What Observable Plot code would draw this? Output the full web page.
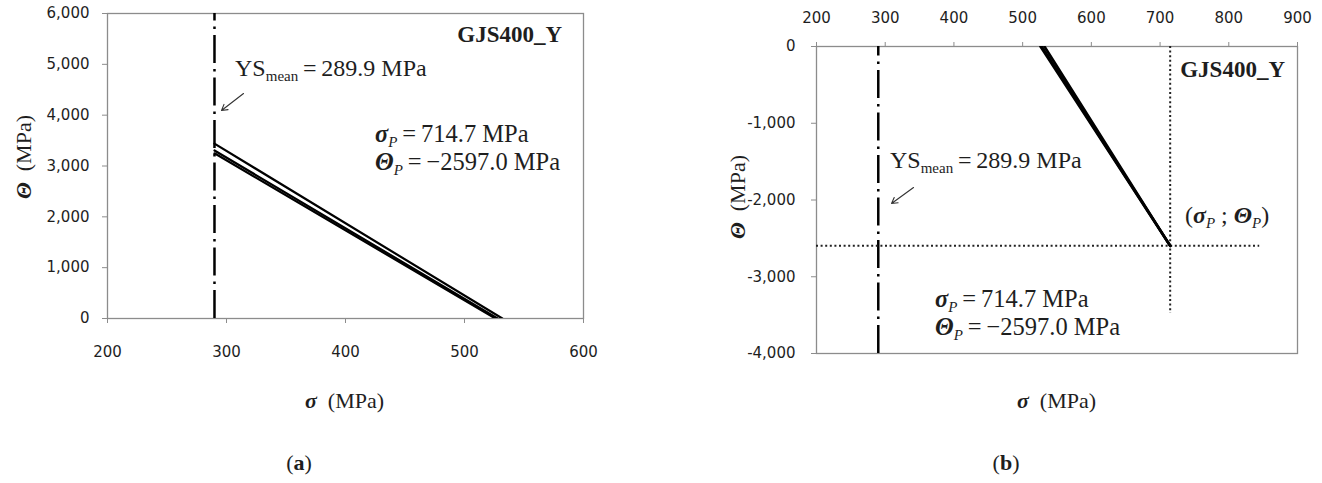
<!DOCTYPE html>
<html>
<head>
<meta charset="utf-8">
<script src="https://cdn.jsdelivr.net/npm/d3@7"></script>
<script src="https://cdn.jsdelivr.net/npm/@observablehq/plot@0.6"></script>
<style>
  html, body { margin: 0; padding: 0; background: #fff; }
  body { width: 1322px; height: 483px; position: relative; overflow: hidden; }
  #a, #b { position: absolute; top: 0; }
  #a { left: 0; }
  #b { left: 672px; }
</style>
</head>
<body>
<div id="a"></div>
<div id="b"></div>
<script>
// ---------- data ----------
const curveIds = ["c1", "c2", "c3"];
const ysMean = 289.9;                       // MPa
const thetaAtYS = [3440, 3305, 3250];       // Θ at σ = YS_mean for each curve
const sigmaAtZero = [531.8, 527.8, 526.0];  // σ where each curve crosses Θ = 0
const sigmaP = 714.7;
const thetaP = -2597.0;
const dotHorizEnd = 845;    // σ where the horizontal dotted guide ends
const dotVertEnd = -3480;   // Θ where the vertical dotted guide ends
const xTicksA = [200, 300, 400, 500, 600];
const yTicksA = [0, 1000, 2000, 3000, 4000, 5000, 6000];
const xTicksB = [200, 300, 400, 500, 600, 700, 800, 900];
const yTicksB = [0, -1000, -2000, -3000, -4000];
const title = "GJS400_Y";

// ---------- tables built from the arrays ----------
const linesA = curveIds.flatMap((id, i) => [
  {id, sigma: ysMean, theta: thetaAtYS[i]},
  {id, sigma: sigmaAtZero[i], theta: 0}
]);
const linesB = curveIds.flatMap((id, i) => [
  {id, sigma: sigmaAtZero[i], theta: 0},
  {id, sigma: sigmaP, theta: thetaP}
]);

const fmt = d => d3.format(",")(d).replace("\u2212", "-");
const AX = "#8c8c8c", TXT = "#1e1e1e";
const SERIF = "Liberation Serif, Times New Roman, serif";

function rich(g, x, y, parts, {anchor = "start", size = 22, rotate = null, weight = null} = {}) {
  const t = g.append("text")
    .attr("x", x).attr("y", y)
    .attr("font-family", SERIF).attr("font-size", size)
    .attr("fill", TXT).attr("text-anchor", anchor)
    .attr("style", "white-space:pre");
  if (weight) t.attr("font-weight", weight);
  if (rotate != null) t.attr("transform", `rotate(${rotate},${x},${y})`);
  let shift = 0;
  for (const p of parts) {
    const s = t.append("tspan").text(p.t);
    const want = p.sub || 0;
    if (want !== shift) { s.attr("dy", want - shift); shift = want; }
    if (p.b) s.attr("font-weight", "bold");
    if (p.i) s.attr("font-style", "italic");
    if (p.s) s.attr("font-size", p.s);
  }
  return t;
}

const sigmaLab = [{t: "σ", b: 1, i: 1}, {t: "\u2002(MPa)"}];
const thetaLab = [{t: "Θ", b: 1, i: 1}, {t: "\u2002(MPa)"}];
const ysParts = [{t: "YS"}, {t: "mean", sub: 5, s: 15}, {t: "\u2009=\u2009289.9 MPa"}];
const spParts = [{t: "σ", b: 1, i: 1}, {t: "P", i: 1, sub: 5, s: 15}, {t: "\u2009=\u2009714.7 MPa"}];
const tpParts = [{t: "Θ", b: 1, i: 1}, {t: "P", i: 1, sub: 5, s: 15}, {t: "\u2009=\u2009\u22122597.0 MPa"}];

// ---------- chart (a) ----------
const plotA = Plot.plot({
  width: 650, height: 483,
  marginLeft: 107, marginRight: 67, marginTop: 13, marginBottom: 165,
  x: {domain: [200, 600]},
  y: {domain: [0, 6000]},
  style: {fontFamily: "DejaVu Sans, sans-serif", fontSize: "15px", color: TXT, background: "transparent"},
  marks: [
    Plot.frame({stroke: AX, strokeWidth: 1.3}),
    Plot.axisX({ticks: xTicksA, tickSize: 5, tickPadding: 23, stroke: AX, fill: TXT, label: null, tickFormat: fmt}),
    Plot.axisY({ticks: yTicksA, tickSize: 5, tickPadding: 13, stroke: AX, fill: TXT, label: null, tickFormat: fmt}),
    Plot.ruleX([ysMean], {y1: 0, y2: 6000, stroke: "#000", strokeWidth: 2.5, strokeDasharray: "28,6,2.5,6"}),
    Plot.line(linesA, {x: "sigma", y: "theta", z: "id", stroke: "#000", strokeWidth: 2.2, clip: true}),
    Plot.arrow([0], {x1: 314.3, y1: 4426, x2: 295.8, y2: 4092, stroke: "#333", strokeWidth: 1.1, headLength: 9})
  ]
});
document.getElementById("a").append(plotA);
{
  const sx = plotA.scale("x"), sy = plotA.scale("y");
  const g = d3.select(plotA).append("g");
  rich(g, sx.apply(582.4), sy.apply(5430), [{t: title}], {anchor: "end", size: 23, weight: "bold"});
  rich(g, sx.apply(307.6), sy.apply(4761), ysParts, {size: 24});
  rich(g, sx.apply(425.2), sy.apply(3462), spParts, {size: 24.5});
  rich(g, sx.apply(425.2), sy.apply(2911), tpParts, {size: 24.5});
  rich(g, 305, 408, sigmaLab, {size: 22});
  rich(g, 31, 157, thetaLab, {size: 22, rotate: -90, anchor: "middle"});
  rich(g, 299, 470, [{t: "("}, {t: "a", b: 1}, {t: ")"}], {size: 22, anchor: "middle"});
}

// ---------- chart (b) ----------
const plotB = Plot.plot({
  width: 650, height: 483,
  marginLeft: 144, marginRight: 25, marginTop: 46, marginBottom: 130,
  x: {domain: [200, 900]},
  y: {domain: [-4000, 0]},
  style: {fontFamily: "DejaVu Sans, sans-serif", fontSize: "15px", color: TXT, background: "transparent"},
  marks: [
    Plot.frame({stroke: AX, strokeWidth: 1.3}),
    Plot.axisX({anchor: "top", ticks: xTicksB, tickSize: 5, tickPadding: 19, stroke: AX, fill: TXT, label: null, tickFormat: fmt}),
    Plot.axisY({ticks: yTicksB, tickSize: 5, tickPadding: 16, stroke: AX, fill: TXT, label: null, tickFormat: fmt}),
    Plot.ruleX([ysMean], {y1: -4000, y2: 0, stroke: "#000", strokeWidth: 2.5, strokeDasharray: "28,6,2.5,6"}),
    Plot.ruleY([thetaP], {x1: 200, x2: dotHorizEnd, stroke: "#222", strokeWidth: 2, strokeDasharray: "2,2.6"}),
    Plot.ruleX([sigmaP], {y1: 0, y2: dotVertEnd, stroke: "#222", strokeWidth: 2, strokeDasharray: "2,2.6"}),
    Plot.line(linesB, {x: "sigma", y: "theta", z: "id", stroke: "#000", strokeWidth: 2.6, clip: true}),
    Plot.arrow([0], {x1: 341.2, y1: -1837, x2: 309.2, y2: -2046, stroke: "#333", strokeWidth: 1.1, headLength: 9})
  ]
});
document.getElementById("b").append(plotB);
{
  const sx = plotB.scale("x"), sy = plotB.scale("y");
  const g = d3.select(plotB).append("g");
  rich(g, sx.apply(882.6), sy.apply(-404), [{t: title}], {anchor: "end", size: 23, weight: "bold"});
  rich(g, sx.apply(307.7), sy.apply(-1590), ysParts, {size: 24});
  rich(g, sx.apply(737), sy.apply(-2306),
    [{t: "("}, {t: "σ", b: 1, i: 1}, {t: "P", i: 1, sub: 5, s: 15}, {t: " ; "}, {t: "Θ", b: 1, i: 1}, {t: "P", i: 1, sub: 5, s: 15}, {t: ")"}],
    {size: 24});
  rich(g, sx.apply(373.2), sy.apply(-3401), spParts, {size: 24.5});
  rich(g, sx.apply(373.2), sy.apply(-3765), tpParts, {size: 24.5});
  rich(g, 345, 408, sigmaLab, {size: 22});
  rich(g, 73, 197, thetaLab, {size: 22, rotate: -90, anchor: "middle"});
  rich(g, 334, 470, [{t: "("}, {t: "b", b: 1}, {t: ")"}], {size: 22, anchor: "middle"});
}
</script>
</body>
</html>
